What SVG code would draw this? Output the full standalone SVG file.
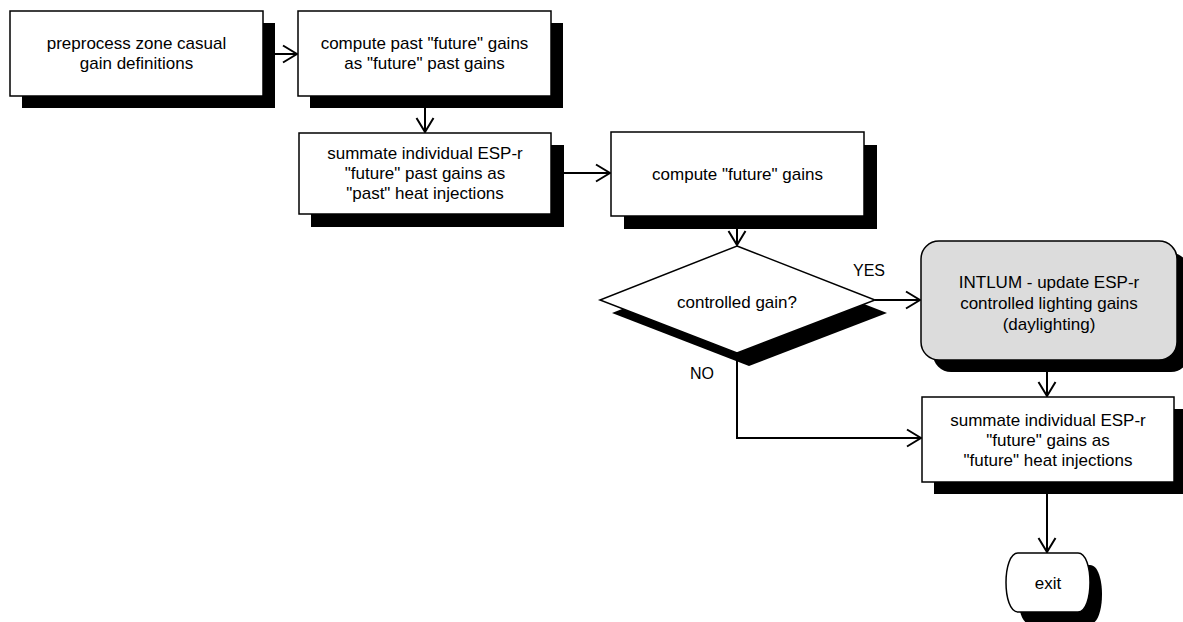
<svg xmlns="http://www.w3.org/2000/svg" width="1183" height="622" viewBox="0 0 1183 622">
  <defs>
    <!-- open chevron arrowhead shared by every connector -->
    <marker id="arrow" viewBox="0 0 16 20" refX="15" refY="10" markerWidth="16" markerHeight="20" markerUnits="userSpaceOnUse" orient="auto">
      <path d="M1 1.5 L15 10 L1 18.5" fill="none" stroke="#000" stroke-width="2"/>
    </marker>
  </defs>
  <style>
    .shadow { fill: #000; stroke: none; }
    .box { fill: #fff; stroke: #000; stroke-width: 1.5; }
    .grey { fill: #dcdcdc; stroke: #000; stroke-width: 1.5; }
    .lbl { font-family: "Liberation Sans", Arial, sans-serif; font-size: 17px; fill: #000; text-anchor: middle; }
    .tag { font-family: "Liberation Sans", Arial, sans-serif; font-size: 16px; fill: #000; text-anchor: middle; }
    .conn { fill: none; stroke: #000; stroke-width: 2; marker-end: url(#arrow); }
  </style>
  <rect width="1183" height="622" fill="#fff"/>

  <g id="preprocess">
    <rect class="shadow" x="22" y="23" width="253" height="85"/>
    <rect class="box" x="10" y="11" width="253" height="85"/>
    <text class="lbl" x="136.5" y="49">preprocess zone casual</text>
    <text class="lbl" x="136.5" y="69">gain definitions</text>
  </g>

  <g id="past-future">
    <rect class="shadow" x="310" y="23" width="253" height="85"/>
    <rect class="box" x="298" y="11" width="253" height="85"/>
    <text class="lbl" x="424.5" y="49">compute past "future" gains</text>
    <text class="lbl" x="424.5" y="69">as "future" past gains</text>
  </g>

  <g id="sum-past">
    <rect class="shadow" x="311" y="145" width="253" height="82"/>
    <rect class="box" x="299" y="133" width="252" height="81"/>
    <text class="lbl" x="425" y="159">summate individual ESP-r</text>
    <text class="lbl" x="425" y="179">"future" past gains as</text>
    <text class="lbl" x="425" y="199">"past" heat injections</text>
  </g>

  <g id="compute-future">
    <rect class="shadow" x="624" y="145" width="253" height="84"/>
    <rect class="box" x="611" y="132" width="253" height="84"/>
    <text class="lbl" x="737.5" y="180">compute "future" gains</text>
  </g>

  <g id="decision">
    <polygon class="shadow" points="749,259 887,313 749,366 612,313"/>
    <polygon class="box" points="737,246 875,300 737,353 600,300"/>
    <text class="lbl" x="737" y="308">controlled gain?</text>
  </g>

  <g id="intlum">
    <rect class="shadow" x="933" y="253" width="256" height="119" rx="18" ry="18"/>
    <rect class="grey" x="921" y="241" width="256" height="119" rx="18" ry="18"/>
    <text class="lbl" x="1049" y="288">INTLUM - update ESP-r</text>
    <text class="lbl" x="1049" y="309">controlled lighting gains</text>
    <text class="lbl" x="1049" y="330">(daylighting)</text>
  </g>

  <g id="sum-future">
    <rect class="shadow" x="934" y="409" width="252" height="85"/>
    <rect class="box" x="922" y="397" width="252" height="85"/>
    <text class="lbl" x="1048" y="426">summate individual ESP-r</text>
    <text class="lbl" x="1048" y="446">"future" gains as</text>
    <text class="lbl" x="1048" y="466">"future" heat injections</text>
  </g>

  <g id="exit">
    <path class="shadow" d="M1030 565 L1090 565 C1106 565 1106 624 1090 624 L1030 624 C1014 624 1014 565 1030 565 Z"/>
    <path class="box" d="M1018 553 L1078 553 C1094 553 1094 612 1078 612 L1018 612 C1002 612 1002 553 1018 553 Z"/>
    <text class="lbl" x="1048" y="589">exit</text>
  </g>

  <g id="connectors">
    <line class="conn" x1="263" y1="54" x2="297" y2="54"/>
    <line class="conn" x1="425" y1="96" x2="425" y2="132"/>
    <line class="conn" x1="551" y1="173" x2="610" y2="173"/>
    <line class="conn" x1="737" y1="216" x2="737" y2="245"/>
    <line class="conn" x1="875" y1="300" x2="920" y2="300"/>
    <line class="conn" x1="1047" y1="360" x2="1047" y2="396"/>
    <polyline class="conn" points="737,353 737,438 921,438"/>
    <line class="conn" x1="1047" y1="482" x2="1047" y2="552"/>
    <text class="tag" x="869" y="276">YES</text>
    <text class="tag" x="702" y="379">NO</text>
  </g>
</svg>
